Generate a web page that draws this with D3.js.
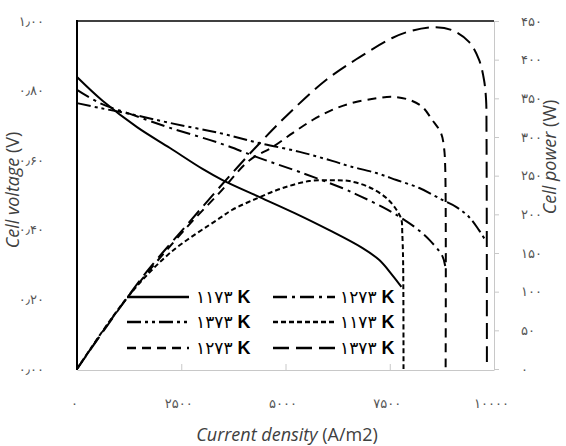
<!DOCTYPE html>
<html>
<head>
<meta charset="utf-8">
<script src="https://cdn.jsdelivr.net/npm/d3@7"></script>
<style>
  body { margin: 0; background: #fff; }
  svg { display: block; }
</style>
</head>
<body>
<svg id="chart"></svg>
<script>
// current density (A/m2) and read values for each curve
const current1173V = [0, 620, 1440, 2230, 3010, 3490, 4380, 5220, 6050, 6840, 7250, 7560, 7780];
const voltage1173 = [0.839, 0.770, 0.695, 0.635, 0.575, 0.543, 0.494, 0.448, 0.399, 0.348, 0.313, 0.270, 0.236];

const current1273V = [0, 550, 1270, 2230, 3420, 4380, 5340, 6360, 6840, 7320, 7660, 8130, 8450, 8760, 8830];
const voltage1273 = [0.802, 0.764, 0.733, 0.693, 0.649, 0.606, 0.566, 0.520, 0.494, 0.466, 0.443, 0.405, 0.371, 0.325, 0.296];

const current1373V = [0, 550, 1270, 2230, 3420, 4380, 5340, 6120, 6530, 7180, 7660, 8210, 8760, 9090, 9400, 9640, 9790];
const voltage1373 = [0.764, 0.750, 0.733, 0.707, 0.678, 0.649, 0.624, 0.598, 0.583, 0.563, 0.543, 0.520, 0.486, 0.466, 0.437, 0.399, 0.371];

const current1173P = [0, 1200, 2230, 3420, 3730, 4330, 4930, 5570, 6120, 6530, 7010, 7420, 7660, 7780, 7800, 7820, 7830];
const power1173 = [0, 92, 150, 195, 206, 221, 234, 243, 244, 243, 235, 221, 206, 193, 176, 141, 0];

const current1273P = [0, 1200, 2630, 3420, 4140, 4690, 5170, 5650, 6120, 6600, 7180, 7560, 7970, 8280, 8520, 8730, 8800, 8830, 8840];
const power1273 = [0, 92, 183, 228, 270, 287, 305, 322, 335, 344, 350, 352, 348, 339, 322, 305, 287, 261, 0];

const current1373P = [0, 1200, 1750, 2630, 3420, 4380, 5170, 5980, 6770, 7560, 8000, 8610, 9000, 9400, 9640, 9760, 9810, 9820, 9830];
const power1373 = [0, 92, 131, 186, 235, 292, 335, 374, 403, 428, 437, 442, 438, 423, 400, 374, 348, 309, 0];

const legendTemps = ["۱۱۷۳", "۱۲۷۳", "۱۳۷۳", "۱۱۷۳", "۱۲۷۳", "۱۳۷۳"];

const xTicks = [0, 2500, 5000, 7500, 10000];
const xTickLabels = ["۰", "۲۵۰۰", "۵۰۰۰", "۷۵۰۰", "۱۰۰۰۰"];
const voltTicks = [0, 0.2, 0.4, 0.6, 0.8, 1.0];
const voltTickLabels = ["۰٫۰۰", "۰٫۲۰", "۰٫۴۰", "۰٫۶۰", "۰٫۸۰", "۱٫۰۰"];
const powerTicks = [0, 50, 100, 150, 200, 250, 300, 350, 400, 450];
const powerTickLabels = ["۰", "۵۰", "۱۰۰", "۱۵۰", "۲۰۰", "۲۵۰", "۳۰۰", "۳۵۰", "۴۰۰", "۴۵۰"];

drawChart();

function drawChart() {
    const width = 566;
    const height = 446;
    const left = 77, right = 494, top = 21, bottom = 369;

    const svg = d3.select("#chart")
        .attr("width", width)
        .attr("height", height);

    const x = d3.scaleLinear().domain([0, 10000]).range([left, right]);
    const yV = d3.scaleLinear().domain([0, 1]).range([bottom, top]);
    const yP = d3.scaleLinear().domain([0, 450]).range([bottom, top]);

    // bottom axis, grey line with small inner ticks
    const xAxis = d3.axisBottom(x)
        .tickValues(xTicks)
        .tickFormat((d, i) => xTickLabels[i])
        .tickSizeInner(-6)
        .tickSizeOuter(0)
        .tickPadding(29);

    const gx = svg.append("g")
        .attr("transform", `translate(0, ${bottom + 1})`)
        .call(xAxis);
    gx.select(".domain").attr("stroke", "#c8c8c8");
    gx.selectAll(".tick line").attr("stroke", "#c8c8c8");
    gx.selectAll(".tick text")
        .attr("dx", -3)
        .attr("fill", "#555")
        .style("font", "13px 'DejaVu Sans'");

    // left axis: labels only
    const yAxisLeft = d3.axisLeft(yV)
        .tickValues(voltTicks)
        .tickFormat((d, i) => voltTickLabels[i])
        .tickSize(0)
        .tickPadding(33);

    const gl = svg.append("g")
        .attr("transform", `translate(${left}, 0)`)
        .call(yAxisLeft);
    gl.select(".domain").remove();
    gl.selectAll(".tick text")
        .attr("fill", "#555")
        .style("font", "13px 'DejaVu Sans'");

    // right axis
    const yAxisRight = d3.axisRight(yP)
        .tickValues(powerTicks)
        .tickFormat((d, i) => powerTickLabels[i])
        .tickSizeInner(5)
        .tickSizeOuter(0)
        .tickPadding(22);

    const gr = svg.append("g")
        .attr("transform", `translate(${right}, 0)`)
        .call(yAxisRight);
    gr.select(".domain").attr("stroke", "#c8c8c8");
    gr.selectAll(".tick line").attr("stroke", "#c8c8c8");
    gr.selectAll(".tick text")
        .attr("fill", "#555")
        .style("font", "13px 'DejaVu Sans'");

    // black frame on left and top
    svg.append("line")
        .attr("x1", left).attr("x2", left)
        .attr("y1", top - 1).attr("y2", bottom + 1)
        .attr("stroke", "#000").attr("stroke-width", 2);
    svg.append("line")
        .attr("x1", left - 1).attr("x2", right)
        .attr("y1", top).attr("y2", top)
        .attr("stroke", "#000").attr("stroke-width", 1.6);

    const series = [
        { xs: current1173V, ys: voltage1173, scale: yV, dash: null },
        { xs: current1273V, ys: voltage1273, scale: yV, dash: "14,5,3,5" },
        { xs: current1373V, ys: voltage1373, scale: yV, dash: "14,4,3,4,3,4" },
        { xs: current1173P, ys: power1173, scale: yP, dash: "5,3" },
        { xs: current1273P, ys: power1273, scale: yP, dash: "9,6" },
        { xs: current1373P, ys: power1373, scale: yP, dash: "16,7" }
    ];

    series.forEach(s => {
        const pts = s.xs.map((v, i) => [v, s.ys[i]]);
        const line = d3.line()
            .x(d => x(d[0]))
            .y(d => s.scale(d[1]))
            .curve(d3.curveCatmullRom.alpha(0.5));
        svg.append("path")
            .datum(pts)
            .attr("d", line)
            .attr("fill", "none")
            .attr("stroke", "#000")
            .attr("stroke-width", 2)
            .attr("stroke-dasharray", s.dash);
    });

    // legend, two columns by three rows
    const legendX = [127, 273];
    const legendTextX = [196, 340];
    const legendY = [297, 322, 348];

    series.forEach((s, i) => {
        const col = i % 2, row = Math.floor(i / 2);
        svg.append("line")
            .attr("x1", legendX[col]).attr("x2", legendX[col] + 62)
            .attr("y1", legendY[row]).attr("y2", legendY[row])
            .attr("stroke", "#000")
            .attr("stroke-width", 2.6)
            .attr("stroke-dasharray", s.dash);
        const t = svg.append("text")
            .attr("x", legendTextX[col])
            .attr("y", legendY[row])
            .attr("dy", "0.36em")
            .attr("fill", "#000");
        t.append("tspan")
            .style("font", "17px 'DejaVu Sans'")
            .text(legendTemps[i]);
        t.append("tspan")
            .style("font", "bold 18px 'Liberation Sans'")
            .text(" K");
    });

    // axis titles
    const xTitle = svg.append("text")
        .attr("x", 287).attr("y", 441)
        .attr("text-anchor", "middle")
        .attr("fill", "#404040")
        .style("font", "18px 'Open Sans'");
    xTitle.append("tspan").style("font-style", "italic").text("Current density");
    xTitle.append("tspan").text(" (A/m2)");

    const yTitle = svg.append("text")
        .attr("transform", "translate(19, 190) rotate(-90)")
        .attr("text-anchor", "middle")
        .attr("fill", "#404040")
        .style("font", "18px 'Open Sans'");
    yTitle.append("tspan").style("font-style", "italic").text("Cell voltage");
    yTitle.append("tspan").text(" (V)");

    const pTitle = svg.append("text")
        .attr("transform", "translate(556, 157) rotate(-90)")
        .attr("text-anchor", "middle")
        .attr("fill", "#404040")
        .style("font", "18px 'Open Sans'");
    pTitle.append("tspan").style("font-style", "italic").text("Cell power");
    pTitle.append("tspan").text(" (W)");
}
</script>
</body>
</html>
